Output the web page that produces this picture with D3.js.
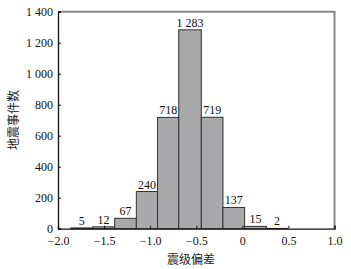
<!DOCTYPE html>
<html>
<head>
<meta charset="utf-8">
<script src="https://cdn.jsdelivr.net/npm/d3@7"></script>
<style>
  body { margin: 0; background: #fff; }
  text { font-family: "Liberation Serif", "DejaVu Serif", serif; }
</style>
</head>
<body>
<div id="chart"></div>
<script>
// bin edges (magnitude deviation) and counts
var binEdges = [-1.86, -1.625, -1.385, -1.15, -0.92, -0.69, -0.445, -0.21, 0.025, 0.26, 0.49]
var counts = [5, 12, 67, 240, 718, 1283, 719, 137, 15, 2]

var xTicks = [-2.0, -1.5, -1.0, -0.5, 0, 0.5, 1.0]
var yTicks = [0, 200, 400, 600, 800, 1000, 1200, 1400]

var svg = d3.select("#chart").append("svg")
  .attr("width", 351)
  .attr("height", 269)

// plot box (note: "top" is taken by window.top, so use other names)
var plotL = 58, plotR = 334.5, plotT = 11.7, plotB = 228.7

var x = d3.scaleLinear().domain([-2, 1]).range([plotL, plotR])
var y = d3.scaleLinear().domain([0, 1400]).range([plotB, plotT])

// thousands with a space, like "1 400"
function fmtY(d) {
  if (d < 1000) return String(d)
  var s = String(d)
  return s.slice(0, s.length - 3) + " " + s.slice(s.length - 3)
}
function fmtX(d) {
  if (d == 0) return "0"
  return (d < 0 ? "\u2212" : "") + Math.abs(d).toFixed(1)
}

// bars
for (var i = 0; i < counts.length; i++) {
  svg.append("rect")
    .attr("x", x(binEdges[i]))
    .attr("y", y(counts[i]))
    .attr("width", x(binEdges[i + 1]) - x(binEdges[i]))
    .attr("height", plotB - y(counts[i]))
    .style("fill", "#a9a9ac")
    .style("stroke", "#333")
    .style("stroke-width", 1)

  svg.append("text")
    .attr("x", (x(binEdges[i]) + x(binEdges[i + 1])) / 2)
    .attr("y", y(counts[i]) - 3)
    .attr("text-anchor", "middle")
    .style("font-size", "12px")
    .style("fill", "#111")
    .text(fmtY(counts[i]))
}

// frame: top and right in grey
svg.append("line")
  .attr("x1", plotL).attr("x2", plotR + 1)
  .attr("y1", plotT).attr("y2", plotT)
  .style("stroke", "#888").style("stroke-width", 2)
svg.append("line")
  .attr("x1", plotR).attr("x2", plotR)
  .attr("y1", plotT).attr("y2", plotB)
  .style("stroke", "#888").style("stroke-width", 2)

// y axis, ticks pointing inward
var yAxis = d3.axisLeft(y).tickValues(yTicks).tickSize(-3).tickPadding(5).tickFormat(fmtY)
svg.append("g")
  .attr("transform", "translate(" + plotL + ",0)")
  .call(yAxis)

// x axis, ticks pointing inward
var xAxis = d3.axisBottom(x).tickValues(xTicks).tickSize(-3).tickPadding(8).tickFormat(fmtX)
svg.append("g")
  .attr("transform", "translate(0," + plotB + ")")
  .call(xAxis)

svg.selectAll(".domain").style("stroke", "#111").style("stroke-width", 1.3)
svg.selectAll(".tick line").style("stroke", "#111")
svg.selectAll(".tick text")
  .style("font-size", "12px")
  .style("font-family", "'Liberation Serif', serif")
  .style("fill", "#111")

// axis titles
svg.append("text")
  .attr("x", 191)
  .attr("y", 264)
  .attr("text-anchor", "middle")
  .style("font-family", "'Noto Sans CJK SC', sans-serif")
  .style("font-size", "12px")
  .style("fill", "#222")
  .text("震级偏差")

svg.append("text")
  .attr("transform", "translate(18,120) rotate(-90)")
  .attr("text-anchor", "middle")
  .style("font-family", "'Noto Sans CJK SC', sans-serif")
  .style("font-size", "12px")
  .style("fill", "#222")
  .text("地震事件数")
</script>
</body>
</html>
